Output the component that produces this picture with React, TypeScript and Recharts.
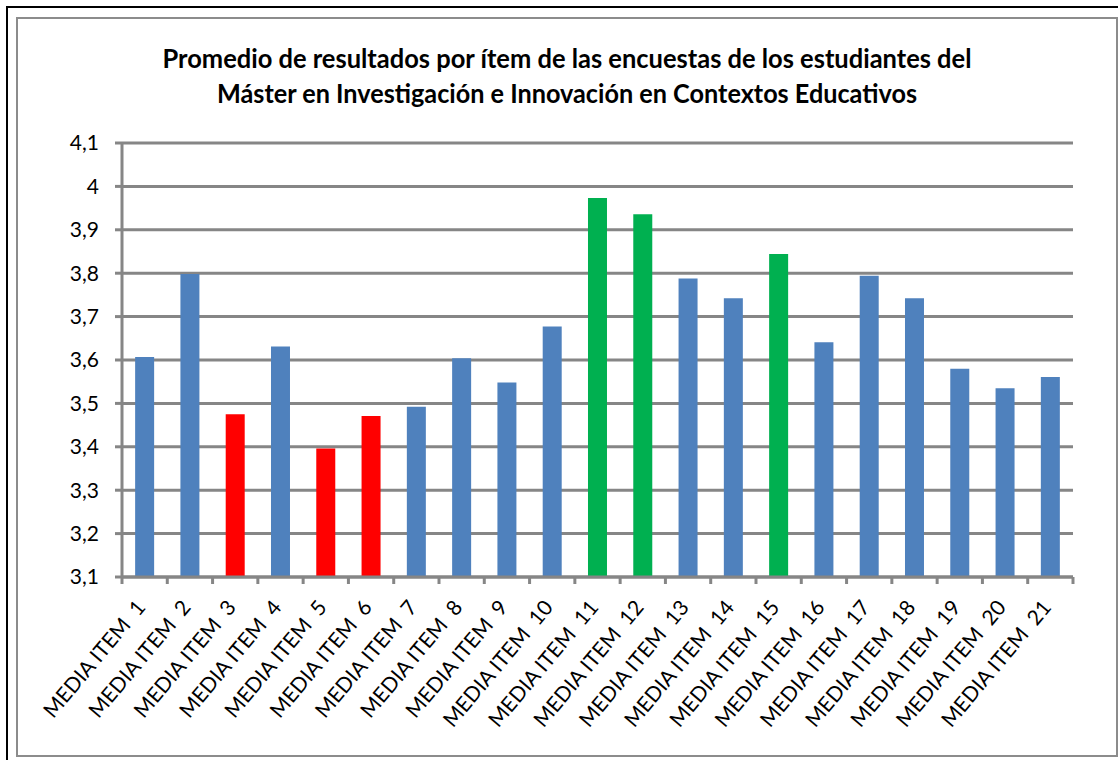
import React from 'react';
import { BarChart, Bar, XAxis, YAxis, CartesianGrid, Cell } from 'recharts';

// Medias por ítem
const items = [
  'MEDIA ITEM  1', 'MEDIA ITEM  2', 'MEDIA ITEM  3', 'MEDIA ITEM  4', 'MEDIA ITEM  5',
  'MEDIA ITEM  6', 'MEDIA ITEM  7', 'MEDIA ITEM  8', 'MEDIA ITEM  9', 'MEDIA ITEM  10',
  'MEDIA ITEM  11', 'MEDIA ITEM  12', 'MEDIA ITEM  13', 'MEDIA ITEM  14', 'MEDIA ITEM  15',
  'MEDIA ITEM  16', 'MEDIA ITEM  17', 'MEDIA ITEM  18', 'MEDIA ITEM  19', 'MEDIA ITEM  20',
  'MEDIA ITEM  21',
];
const medias = [
  3.607, 3.798, 3.475, 3.631, 3.396, 3.471, 3.492, 3.604, 3.548, 3.677,
  3.973, 3.936, 3.788, 3.742, 3.844, 3.641, 3.794, 3.742, 3.580, 3.535, 3.561,
];
// 'low' = rojo, 'high' = verde, 'normal' = azul
const grupos = [
  'normal', 'normal', 'low', 'normal', 'low', 'low', 'normal', 'normal', 'normal', 'normal',
  'high', 'high', 'normal', 'normal', 'high', 'normal', 'normal', 'normal', 'normal', 'normal', 'normal',
];
const yTicks = [3.1, 3.2, 3.3, 3.4, 3.5, 3.6, 3.7, 3.8, 3.9, 4.0, 4.1];
const titleLines = [
  'Promedio de resultados por ítem de las encuestas de los estudiantes del',
  'Máster en Investigación e Innovación en Contextos Educativos',
];

const colors: Record<string, string> = { normal: '#4F81BD', low: '#FF0000', high: '#00B050' };
const GRID = '#868686';
const FONT = 'Lato, "Open Sans", sans-serif';

const W = 1118;
const H = 760;
const PLOT_LEFT = 122;
const PLOT_RIGHT = 1073;
const PLOT_TOP = 143;
const PLOT_BOTTOM = 577;
const step = (PLOT_RIGHT - PLOT_LEFT) / items.length;

const data = items.map((name, i) => ({ name, value: medias[i], grupo: grupos[i] }));

const fmt = (v: number) => String(Math.round(v * 10) / 10).replace('.', ',');

function XTick(props: any) {
  const { x, y, payload, index } = props;
  const left = x - step / 2;
  const tx = x + 2;
  const ty = y + 23;
  return (
    <g>
      <line x1={left} x2={left} y1={y - 8} y2={y - 1} stroke={GRID} strokeWidth={3} />
      {index === items.length - 1 && (
        <line x1={x + step / 2} x2={x + step / 2} y1={y - 8} y2={y - 1} stroke={GRID} strokeWidth={3} />
      )}
      <text
        x={tx}
        y={ty}
        transform={`rotate(-50, ${tx}, ${ty})`}
        textAnchor="end"
        fontSize={21}
        fontFamily={FONT}
        fill="#000"
        style={{ whiteSpace: 'pre' }}
      >
        {payload.value}
      </text>
    </g>
  );
}

export default function App() {
  return (
    <div style={{ position: 'absolute', left: 0, top: 0, width: W, height: H, overflow: 'hidden', background: '#fff' }}>
      <div style={{ position: 'absolute', left: 6, top: 6, width: W, height: H, border: '2px solid #000' }} />
      <div style={{ position: 'absolute', left: 16, top: 17, width: 1098, height: 736, border: '2px solid #8c8c8c' }} />
      <div style={{ position: 'absolute', left: 0, top: 0 }}>
        <BarChart
          width={W}
          height={H}
          data={data}
          margin={{ top: PLOT_TOP, right: W - PLOT_RIGHT, left: PLOT_LEFT - 70, bottom: 0 }}
          barCategoryGap="29%"
        >
          <text x={567} y={68} textAnchor="middle" fontFamily={FONT} fontWeight={700} fontSize={27}
            textLength={809} lengthAdjust="spacingAndGlyphs">
            {titleLines[0]}
          </text>
          <text x={567} y={103} textAnchor="middle" fontFamily={FONT} fontWeight={700} fontSize={27}
            textLength={700} lengthAdjust="spacingAndGlyphs">
            {titleLines[1]}
          </text>
          <CartesianGrid vertical={false} stroke={GRID} strokeWidth={3} />
          <XAxis
            dataKey="name"
            interval={0}
            height={H - PLOT_BOTTOM}
            axisLine={{ stroke: GRID, strokeWidth: 3 }}
            tickLine={false}
            tick={<XTick />}
          />
          <YAxis
            width={70}
            domain={[3.1, 4.1]}
            ticks={yTicks}
            interval={0}
            allowDataOverflow
            tickFormatter={fmt}
            axisLine={{ stroke: GRID, strokeWidth: 3 }}
            tickLine={{ stroke: GRID, strokeWidth: 3 }}
            tickSize={7}
            tickMargin={16}
            tick={{ fontSize: 21, fontFamily: FONT, fill: '#000' }}
          />
          <Bar dataKey="value" isAnimationActive={false}>
            {data.map((d, i) => (
              <Cell key={i} fill={colors[d.grupo]} />
            ))}
          </Bar>
        </BarChart>
      </div>
    </div>
  );
}
